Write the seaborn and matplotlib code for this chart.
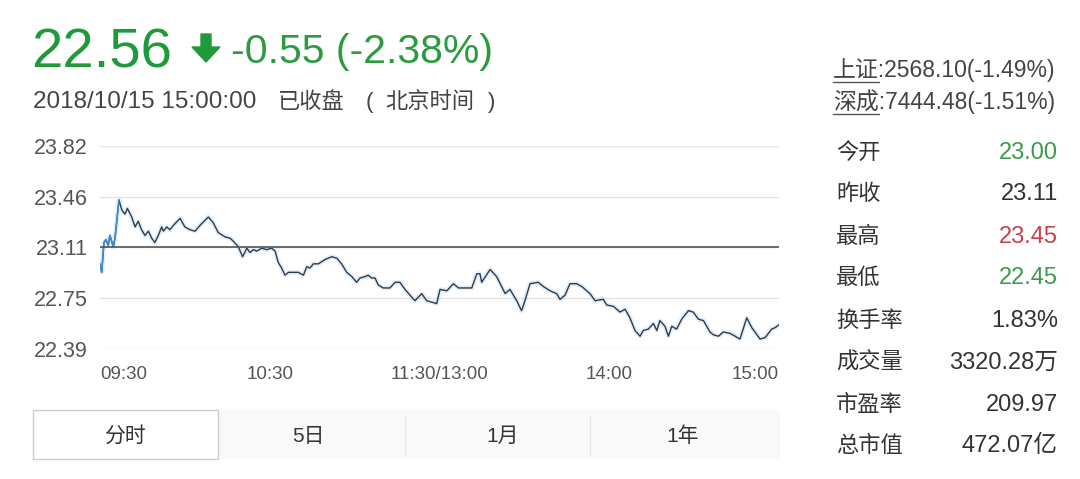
import seaborn as sns
import matplotlib.pyplot as plt
import pandas as pd
from matplotlib.patches import FancyArrow, Rectangle
from matplotlib.lines import Line2D

# minutes since 09:30 (lunch break removed), price
minutes = [0, 0.6, 1.4, 2.1, 2.9, 3.5, 4.7, 5.3, 6.7, 7.7,
           8.8, 9.7, 11.2, 12.4, 13.5, 14.7, 15.9, 17.1, 18.3, 19.4,
           20.6, 21.8, 22.4, 23.6, 24.7, 25.9, 28.3, 30.0, 31.8, 33.6,
           35.3, 38.3, 40.0, 41.8, 44.2, 46.0, 47.1, 48.9, 50.4, 51.9,
           53.0, 54.2, 55.4, 57.2, 58.9, 60.7, 61.9, 63.0, 64.2, 65.4,
           66.6, 68.3, 70.1, 71.9, 73.1, 74.2, 75.4, 77.2, 79.5, 81.9,
           83.7, 85.4, 87.2, 89.0, 90.7, 91.9, 93.7, 94.8, 96.0, 97.2,
           98.4, 100.1, 102.5, 104.3, 106.0,
           107.8, 111.3, 113.7, 115.5, 119.0, 120.2, 122.6, 124.9, 126.7, 131.4,
           133.2, 134.3, 134.9, 137.9, 140.2, 143.2, 144.9, 147.3, 149.0, 150.2,
           152.0, 154.9, 156.7, 159.1, 161.4, 162.6, 164.4, 166.1, 168.5, 170.3,
           173.2, 175.0, 177.9, 179.1, 181.5, 183.8, 185.6, 187.3, 189.1, 190.9,
           192.0, 193.8, 195.6, 196.8, 197.9, 199.7, 200.9, 202.1, 203.8, 205.6,
           208.0, 209.7, 211.5, 213.3, 215.6, 216.8, 218.6, 220.3, 222.7,
           224.5, 226.2, 228.6, 230.4, 233.3, 235.1, 237.4, 238.6, 240]
prices = [22.99, 22.93, 23.14, 23.16, 23.12, 23.19, 23.11, 23.17, 23.44, 23.37,
          23.34, 23.38, 23.32, 23.25, 23.29, 23.23, 23.19, 23.22, 23.17, 23.14,
          23.19, 23.25, 23.22, 23.25, 23.23, 23.26, 23.31, 23.25, 23.23, 23.22,
          23.26, 23.32, 23.28, 23.21, 23.18, 23.17, 23.15, 23.11, 23.04, 23.10,
          23.07, 23.09, 23.08, 23.10, 23.09, 23.10, 23.08, 23.00, 22.96, 22.91,
          22.93, 22.93, 22.93, 22.91, 22.97, 22.96, 22.99, 22.99, 23.02, 23.04,
          23.03, 22.99, 22.93, 22.90, 22.86, 22.89, 22.90, 22.91, 22.89, 22.89,
          22.84, 22.82, 22.82, 22.86, 22.86,
          22.81, 22.73, 22.78, 22.73, 22.71, 22.81, 22.80, 22.85, 22.82, 22.82,
          22.92, 22.92, 22.86, 22.95, 22.90, 22.78, 22.81, 22.73, 22.66, 22.73,
          22.85, 22.86, 22.83, 22.80, 22.78, 22.74, 22.77, 22.85, 22.85, 22.83,
          22.78, 22.73, 22.74, 22.70, 22.69, 22.65, 22.67, 22.61, 22.52, 22.48,
          22.52, 22.53, 22.57, 22.52, 22.59, 22.55, 22.48, 22.55, 22.53, 22.60,
          22.66, 22.65, 22.60, 22.59, 22.51, 22.49, 22.48, 22.51, 22.50,
          22.48, 22.46, 22.61, 22.54, 22.46, 22.47, 22.53, 22.54, 22.56]

prev_close = 23.11
y_ticks = [22.39, 22.75, 23.11, 23.46, 23.82]
x_ticks = [0, 60, 120, 180, 240]
x_labels = ["09:30", "10:30", "11:30/13:00", "14:00", "15:00"]

last_price = "22.56"
change_text = "-0.55 (-2.38%)"
time_text = "2018/10/15 15:00:00"
status_parts = ["已收盘", "(", "北京时间", ")"]

index_names = ["上证", "深成"]
index_values = [":2568.10(-1.49%)", ":7444.48(-1.51%)"]

stat_labels = ["今开", "昨收", "最高", "最低", "换手率", "成交量", "市盈率", "总市值"]
stat_values = ["23.00", "23.11", "23.45", "22.45", "1.83%", "3320.28万", "209.97", "472.07亿"]
stat_colors = ["#3d9a4c", "#333333", "#c8404f", "#3d9a4c", "#333333", "#333333", "#333333", "#333333"]

tab_labels = ["分时", "5日", "1月", "1年"]

W, H = 1080, 479
sns.set_style("white")
plt.rcParams['font.family'] = ['Liberation Sans', 'Noto Sans CJK SC', 'DejaVu Sans']


def fx(x):
    return x / W


def fy(y):
    return 1 - y / H


fig = plt.figure(figsize=(W / 100, H / 100), dpi=100)
fig.patch.set_facecolor("white")

# price chart
ax = fig.add_axes([fx(100), fy(349), fx(679), (349 - 146) / H])
df = pd.DataFrame({"minute": minutes, "price": prices})
sns.lineplot(data=df, x="minute", y="price", ax=ax, color="#8fc3ea", lw=3.5, alpha=0.25)
sns.lineplot(data=df, x="minute", y="price", ax=ax, color="#2e3b47", lw=1.0)
sns.lineplot(data=df[df.minute <= 6.7], x="minute", y="price", ax=ax, color="#3b8fd0", lw=1.1)
ax.axhline(prev_close, color="#555555", lw=1.2)
ax.set_xlim(0, 240)
ax.set_ylim(y_ticks[0], y_ticks[-1])
ax.set_yticks(y_ticks)
ax.set_yticklabels([f"{v:.2f}" for v in y_ticks], fontsize=15.5, color="#555555")
ax.set_xticks(x_ticks)
ax.set_xticklabels(x_labels, fontsize=13.5, color="#555555")
ax.get_xticklabels()[0].set_ha("left")
ax.get_xticklabels()[-1].set_ha("right")
ax.tick_params(axis="y", length=0, pad=9)
ax.tick_params(axis="x", length=0, pad=12)
ax.grid(axis="y", color="#e4e4e4", lw=1)
ax.grid(axis="x", visible=False)
for s in ax.spines.values():
    s.set_visible(False)
ax.set_xlabel("")
ax.set_ylabel("")

# header
fig.text(fx(31), fy(68), last_price, fontsize=40.5, color="#1f9a3a", va="baseline")
fig.patches.append(FancyArrow(fx(206), fy(34), 0, -(28 / H), width=fx(10), head_width=fx(28),
                              head_length=15 / H, length_includes_head=True,
                              color="#1f9a3a", transform=fig.transFigure))
fig.text(fx(231), fy(63), change_text, fontsize=29.5, color="#2c9a3f", va="baseline")
fig.text(fx(33), fy(108), time_text, fontsize=17.5, color="#444444", va="baseline")
for part, xs in zip(status_parts, [278, 366, 385, 488]):
    fig.text(fx(xs), fy(108), part, fontsize=16, color="#444444", va="baseline")

# index quotes
for i, (name, val) in enumerate(zip(index_names, index_values)):
    yc = 70 + i * 32
    fig.text(fx(833), fy(yc), name + val, fontsize=16.5, color="#444444", va="center")
    fig.lines.append(Line2D([fx(833), fx(879)], [fy(yc + 12), fy(yc + 12)], color="#555555",
                            lw=1, transform=fig.transFigure))

# stats table
row_y = [153, 194, 237, 278, 321, 363, 405, 446]
for lab, val, col, yc in zip(stat_labels, stat_values, stat_colors, row_y):
    fig.text(fx(836), fy(yc), lab, fontsize=16, color="#333333", va="center")
    fig.text(fx(1058), fy(yc), val, fontsize=17, color=col, va="center", ha="right")

# tabs
fig.patches.append(Rectangle((fx(218), fy(459)), fx(562), (459 - 410) / H, facecolor="#f9f9f9",
                             edgecolor="none", transform=fig.transFigure))
fig.patches.append(Rectangle((fx(33), fy(459)), fx(185), (459 - 410) / H, facecolor="white",
                             edgecolor="#cccccc", lw=1, transform=fig.transFigure))
for xs in [405, 590]:
    fig.lines.append(Line2D([fx(xs), fx(xs)], [fy(416), fy(454)], color="#e6e6e6", lw=1,
                            transform=fig.transFigure))
for lab, xc in zip(tab_labels, [125, 308, 503, 683]):
    fig.text(fx(xc), fy(436), lab, fontsize=15, color="#333333", va="center", ha="center")

fig.savefig("out.png", dpi=100, facecolor="white")
